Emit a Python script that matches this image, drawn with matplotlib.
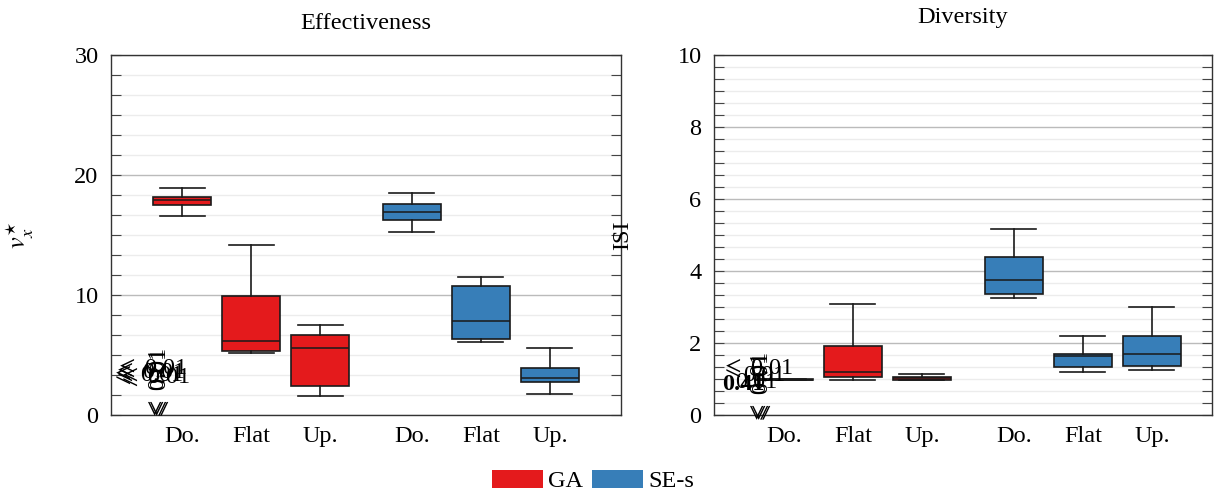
import matplotlib
matplotlib.use("Agg")
import matplotlib.pyplot as plt
from matplotlib.patches import Patch
from matplotlib.ticker import MultipleLocator

plt.rcParams['font.family'] = ['Liberation Serif', 'DejaVu Serif']
plt.rcParams['mathtext.fontset'] = 'stix'

categories = ["Do.", "Flat", "Up."]
series = ["GA", "SE-s"]
colors = ["#E41A1C", "#377EB8"]

# (whislo, q1, med, q3, whishi)
eff_ga = [(16.56, 17.47, 17.95, 18.17, 18.95),
          (5.2, 5.3, 6.14, 9.94, 14.2),
          (1.56, 2.42, 5.56, 6.7, 7.47)]
eff_se = [(15.22, 16.25, 16.89, 17.58, 18.5),
          (6.11, 6.33, 7.86, 10.72, 11.53),
          (1.75, 2.72, 3.11, 3.89, 5.61)]
div_ga = [(0.97, 0.97, 0.98, 0.99, 0.99),
          (0.98, 1.05, 1.19, 1.92, 3.09),
          (0.97, 0.98, 1.02, 1.06, 1.13)]
div_se = [(3.26, 3.35, 3.76, 4.38, 5.16),
          (1.20, 1.34, 1.63, 1.70, 2.20),
          (1.24, 1.37, 1.70, 2.20, 3.01)]

titles = ["Effectiveness", "Diversity"]
ylabels = [r"$v_x^{\star}$", "ISI"]
ylims = [(0, 30), (0, 10)]
ymajor = [10, 2]
yminor = [10 / 6, 2 / 6]

pos_ga = [1, 2, 3]
pos_se = [4.33, 5.33, 6.33]

FS = 17.5

fig = plt.figure(figsize=(12.25, 4.95), dpi=100)
ax1 = fig.add_axes([111 / 1225, 1 - 415 / 495, 510 / 1225, 360 / 495])
ax2 = fig.add_axes([714 / 1225, 1 - 415 / 495, 498 / 1225, 360 / 495])
axes = [ax1, ax2]
xlims = [(-0.03, 7.36), (-0.01, 7.2)]


def stats(rows):
    return [dict(whislo=r[0], q1=r[1], med=r[2], q3=r[3], whishi=r[4], fliers=[])
            for r in rows]


for i, (ax, (ga, se)) in enumerate(zip(axes, [(eff_ga, eff_se), (div_ga, div_se)])):
    for data, pos, col in [(ga, pos_ga, colors[0]), (se, pos_se, colors[1])]:
        ax.bxp(stats(data), positions=pos, widths=0.84, capwidths=0.65,
               patch_artist=True, showfliers=False,
               boxprops=dict(facecolor=col, edgecolor="#1a1a1a", linewidth=1.2),
               medianprops=dict(color="#1a1a1a", linewidth=1.4, alpha=0.8),
               whiskerprops=dict(color="#1a1a1a", linewidth=1.2),
               capprops=dict(color="#1a1a1a", linewidth=1.2))
    ax.set_xlim(*xlims[i])
    ax.set_ylim(*ylims[i])
    ax.set_xticks(pos_ga + pos_se)
    ax.set_xticklabels(categories + categories, fontsize=FS)
    ax.tick_params(axis='x', length=0, pad=8)
    ax.yaxis.set_major_locator(MultipleLocator(ymajor[i]))
    ax.yaxis.set_minor_locator(MultipleLocator(yminor[i]))
    ax.tick_params(axis='y', which='both', direction='in', left=True, right=True,
                   length=7, width=0.8, color="#444444", labelsize=FS, pad=9)
    ax.grid(True, axis='y', which='major', color="#bbbbbb", linewidth=1.0, zorder=0)
    ax.grid(True, axis='y', which='minor', color="#ececec", linewidth=1.0, zorder=0)
    ax.set_axisbelow(True)
    for s in ax.spines.values():
        s.set_color("#333333")
        s.set_linewidth(1.0)

ax1.set_title(titles[0], fontsize=FS, pad=19)
ax2.set_title(titles[1], fontsize=FS, pad=23)
ax1.set_ylabel(ylabels[0], fontsize=19, labelpad=28)
ax2.set_ylabel(ylabels[1], fontsize=FS, labelpad=32)

# overlapping p-value annotations
LE = r"$\leqslant$"
ann_kw = dict(fontsize=FS, ha='center', va='center', color='black', zorder=5)
for dx, dy in [(0, 0), (0.04, 0.3), (-0.03, -0.25), (0.08, -0.45)]:
    ax1.text(0.52 + dx, 3.6 + dy, LE + " 0.01", **ann_kw)
for dx in [0, 0.03]:
    ax1.text(0.66 + dx, 2.6, LE + " 0.01", rotation=90, **ann_kw)
ax2.text(0.62, 1.3, LE + " 0.01", **ann_kw)
ax2.text(0.72, 1.1, "0.01", **ann_kw)
ax2.text(0.42, 0.86, "0.41", fontweight='bold', **ann_kw)
ax2.text(0.6, 0.9, "0.01", **ann_kw)
for dx in [0, 0.03]:
    ax2.text(0.66 + dx, 0.75, LE + " 0.01", rotation=90, **ann_kw)

handles = [Patch(facecolor=c, edgecolor='none') for c in colors]
fig.legend(handles, series, loc='center', bbox_to_anchor=(593 / 1225, 1 - 481 / 495),
           ncol=2, frameon=False, fontsize=FS, handlelength=2.1, handleheight=0.8,
           handletextpad=0.2, columnspacing=0.4, borderpad=0)

fig.savefig("out.png", dpi=100)
